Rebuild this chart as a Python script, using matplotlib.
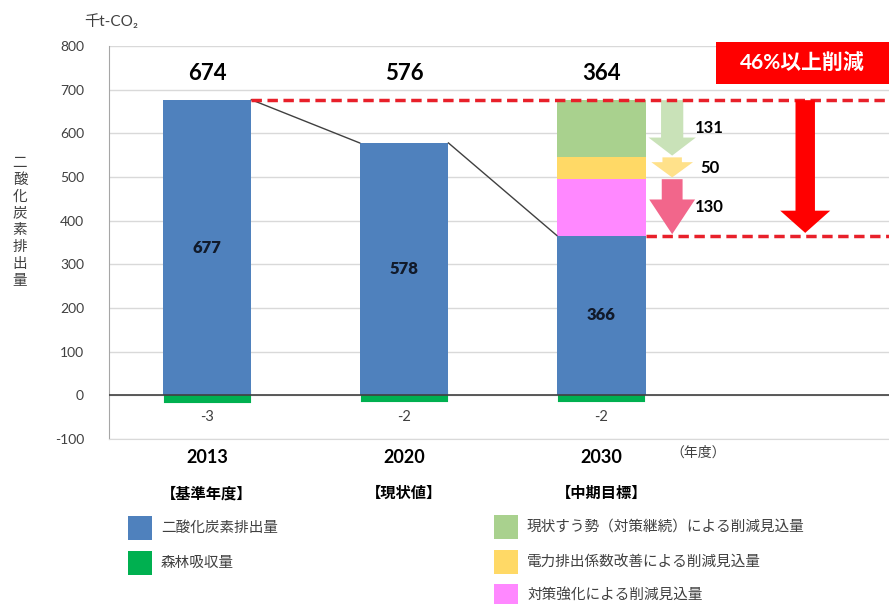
import matplotlib

matplotlib.use("Agg")
import matplotlib.pyplot as plt
from matplotlib.patches import Rectangle

plt.rcParams["font.family"] = ["Lato", "Noto Sans CJK JP", "DejaVu Sans"]
plt.rcParams["axes.unicode_minus"] = False

# --- data -------------------------------------------------------------
years = ["2013", "2020", "2030"]
year_notes = ["【基準年度】", "【現状値】", "【中期目標】"]
co2 = [677, 578, 366]
forest = [-3, -2, -2]
# reductions stacked on the 2030 bar (bottom -> top)
cut_labels = ["対策強化による削減見込量", "電力排出係数改善による削減見込量", "現状すう勢（対策継続）による削減見込量"]
cut_values = [130, 50, 131]
reduction_text = "46%以上削減"

C_BLUE = "#4f81bd"
C_FOREST = "#00b050"
C_CUT = ["#ff88ff", "#ffd966", "#a9d18e"]
C_ARROW = ["#f2668b", "#ffe18a", "#c9e2b8"]
C_RED = "#ff0000"
C_TEXT = "#404040"

fig = plt.figure(figsize=(8.89, 6.04), dpi=100)
ax = fig.add_axes([0.1226, 0.2732, 0.8774, 0.6506])

x = list(range(len(years)))
w = 0.45
ax.set_xlim(-0.497, 3.46)
ax.set_ylim(-100, 800)

# grid + zero line
ax.set_yticks(range(-100, 801, 100))
ax.yaxis.grid(True, color="#d9d9d9", linewidth=1)
ax.set_axisbelow(True)
ax.axhline(0, color="#404040", linewidth=1.2, zorder=4)
ax.tick_params(axis="y", length=0, labelsize=10, labelcolor=C_TEXT, pad=18)
ax.set_xticks([])
for s in ["top", "right"]:
    ax.spines[s].set_visible(False)
ax.spines["left"].set_color("#a6a6a6")
ax.spines["bottom"].set_color("#d9d9d9")

# bars (forest bar gets a thick edge so the tiny value stays visible)
ax.bar(x, forest, width=w - 0.062, color=C_FOREST, edgecolor=C_FOREST, linewidth=8,
       joinstyle="miter", zorder=2)
ax.bar(x, co2, width=w, color=C_BLUE, zorder=3)
bottom = co2[2]
for v, c in zip(cut_values, C_CUT):
    ax.bar(x[2], v, bottom=bottom, width=w, color=c, zorder=3)
    bottom += v
total_2030 = bottom

# connecting lines between bars
ax.plot([x[0] + w / 2, x[1] - w / 2], [co2[0], co2[1]], color="#404040", linewidth=1, zorder=4)
ax.plot([x[1] + w / 2, x[2] - w / 2], [co2[1], co2[2]], color="#404040", linewidth=1, zorder=4)

# red dashed reference lines
xr = ax.get_xlim()[1]
ax.plot([x[0] + w / 2, xr], [co2[0], co2[0]], color="#e8202a", linewidth=2.5,
        linestyle=(0, (3, 1.6)), zorder=5, clip_on=False)
ax.plot([x[2] + w / 2, xr], [co2[2], co2[2]], color="#e8202a", linewidth=2.5,
        linestyle=(0, (3, 1.6)), zorder=5, clip_on=False)

# labels
for xi, c, f in zip(x, co2, forest):
    ax.text(xi, 737, f"{c + f}", ha="center", va="center", fontsize=16, fontweight="bold", color="black")
    ax.text(xi, c / 2, f"{c}", ha="center", va="center", fontsize=12, fontweight="heavy", color="#111a2a", zorder=6)
    ax.text(xi, -50, f"{f}", ha="center", va="center", fontsize=10.5, color=C_TEXT)

# reduction arrows next to the 2030 bar
arrow_x = 2.36
arrow_styles = [
    "simple,head_length=25,head_width=33,tail_width=15",
    "simple,head_length=11,head_width=30,tail_width=14",
    "simple,head_length=13,head_width=34,tail_width=16",
]
lo = co2[2]
for v, c, st in zip(cut_values, C_ARROW, arrow_styles):
    hi = lo + v
    ax.annotate("", xy=(arrow_x, lo + 3), xytext=(arrow_x, hi - 1),
                arrowprops=dict(arrowstyle=st, fc=c, ec="none", mutation_scale=1,
                                shrinkA=0, shrinkB=0), zorder=4)
    ax.text(2.55, (lo + hi) / 2, f"{v}", ha="center", va="center", fontsize=12, fontweight="bold")
    lo = hi

# big red arrow
ax.annotate("", xy=(3.035, co2[2] + 6), xytext=(3.035, total_2030 - 1),
            arrowprops=dict(arrowstyle="simple,head_length=16,head_width=36,tail_width=14",
                            fc=C_RED, ec="none", mutation_scale=1, shrinkA=0, shrinkB=0), zorder=6)

# red box
ax.add_patch(Rectangle((2.584, 712), xr - 2.584, 98, facecolor=C_RED, edgecolor="none",
                       clip_on=False, zorder=6))
ax.text((2.584 + xr) / 2, 761, reduction_text, ha="center", va="center", fontsize=15,
        fontweight="bold", color="white", zorder=7, clip_on=False)

# x labels
tr = ax.get_xaxis_transform()
for xi, yl, nt in zip(x, years, year_notes):
    ax.text(xi, -0.046, yl, transform=tr, ha="center", va="center", fontsize=13, fontweight="bold")
    ax.text(xi, -0.14, nt, transform=tr, ha="center", va="center", fontsize=11, fontweight="bold")
ax.text(2.49, -0.033, "（年度）", transform=tr, ha="center", va="center", fontsize=10, color=C_TEXT)

# unit and y label
fig.text(84 / 889, 1 - 22 / 604, "千t-CO₂", ha="left", va="center", fontsize=11, color=C_TEXT)
fig.text(20 / 889, 1 - 222 / 604, "\n".join("二酸化炭素排出量"), ha="center", va="center",
         fontsize=10.5, color=C_TEXT, linespacing=1.25)

# legend
leg_left = [("二酸化炭素排出量", C_BLUE), ("森林吸収量", C_FOREST)]
leg_right = [(cut_labels[2], C_CUT[2]), (cut_labels[1], C_CUT[1]), (cut_labels[0], C_CUT[0])]
for i, (lab, c) in enumerate(leg_left):
    yc = 528 + i * 35
    fig.patches.append(Rectangle((128 / 889, 1 - (yc + 12) / 604), 24 / 889, 24 / 604,
                                 facecolor=c, edgecolor="none", transform=fig.transFigure))
    fig.text(161 / 889, 1 - yc / 604, lab, ha="left", va="center", fontsize=10.5, color=C_TEXT)
for i, (lab, c) in enumerate(leg_right):
    yc = 527 + i * 34.5
    fig.patches.append(Rectangle((494 / 889, 1 - (yc + 12) / 604), 24 / 889, 24 / 604,
                                 facecolor=c, edgecolor="none", transform=fig.transFigure))
    fig.text(527 / 889, 1 - yc / 604, lab, ha="left", va="center", fontsize=10.5, color=C_TEXT)

fig.savefig("out.png", dpi=100)
